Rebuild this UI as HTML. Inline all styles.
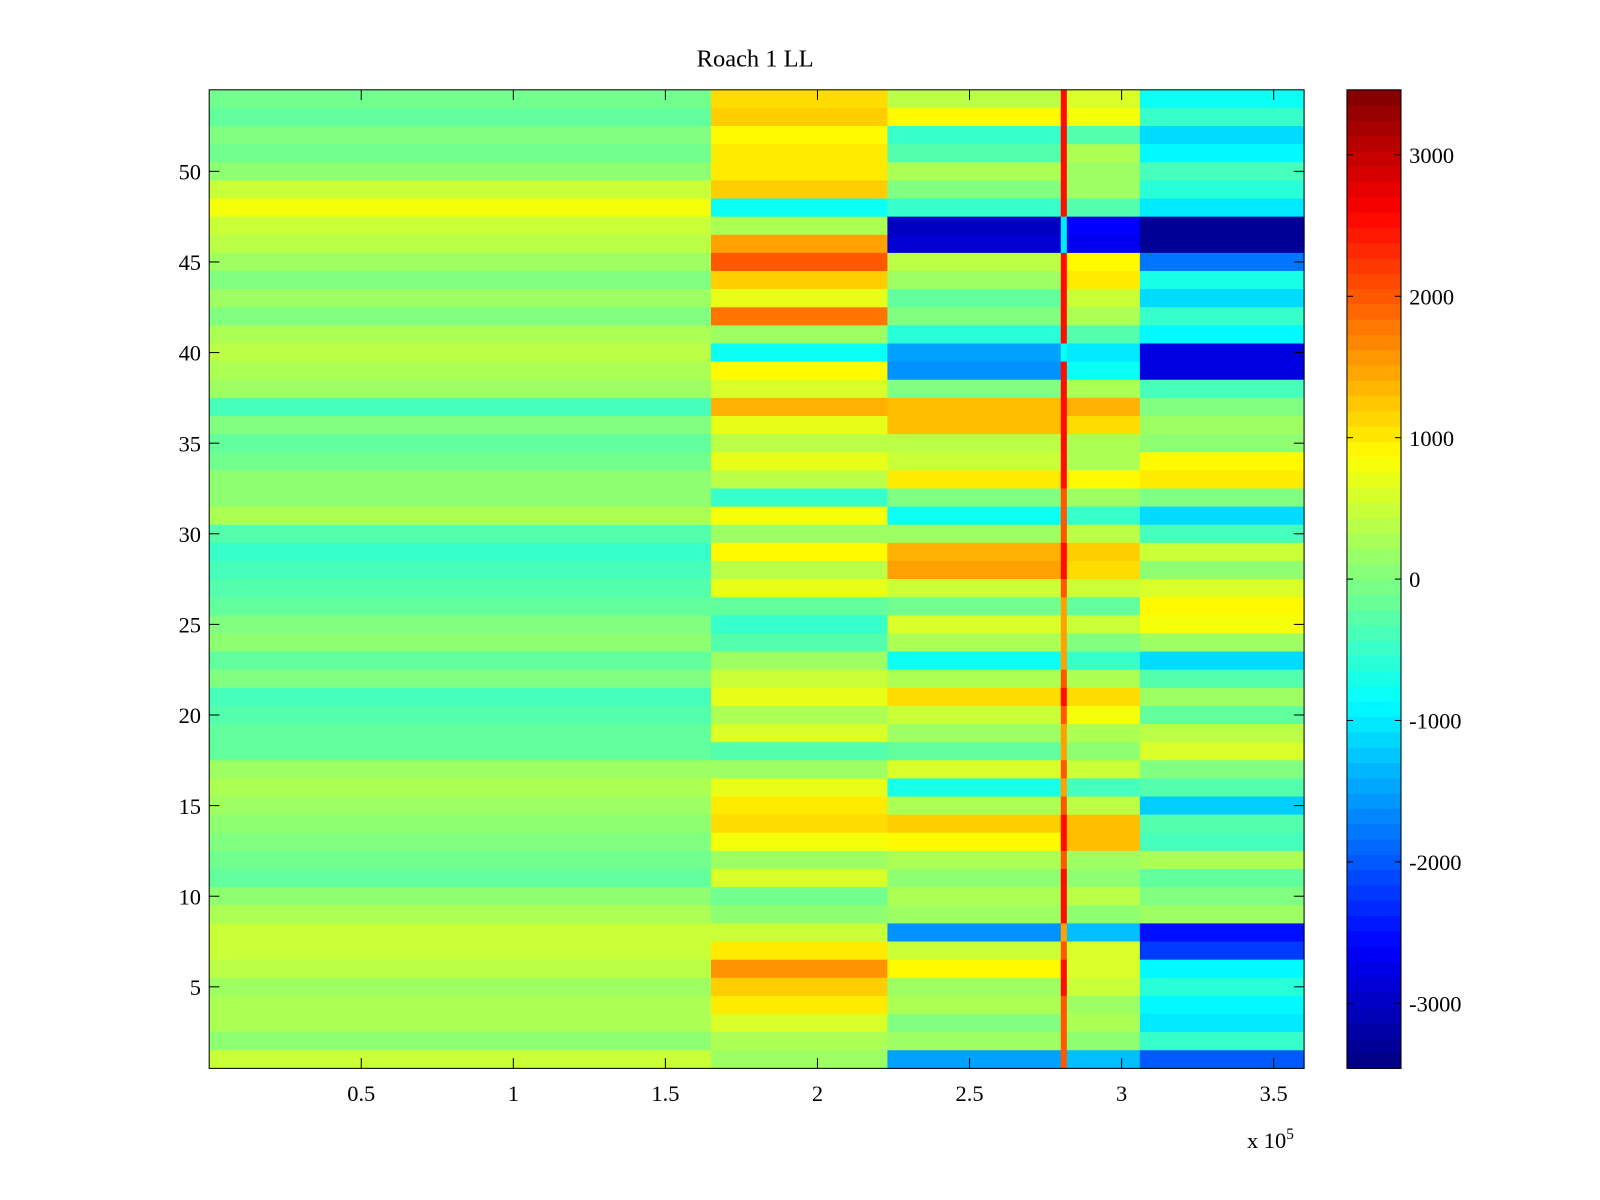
<!DOCTYPE html>
<html><head><meta charset="utf-8"><style>
html,body{margin:0;padding:0;background:#fff;}
svg{display:block;font-family:"Liberation Serif",serif;}
</style></head><body>
<svg id="fig" width="1600" height="1200" viewBox="0 0 1568 1176">
<rect width="1568" height="1176" fill="#fff"/>
<text x="740" y="65" font-size="24" text-anchor="middle">Roach 1 LL</text>
<g id="cells"></g>
<g id="cbar"></g>
<g id="axes"></g>
<text x="1222" y="1125" font-size="22">x 10<tspan dy="-9" font-size="15">5</tspan></text>
</svg>
<script>
const xEdges=[0,1.65e5,2.23e5,2.80e5,2.82e5,3.06e5,3.6e5];
// rows 54 down to 1; each: [seg1, seg2, seg3, spike, seg4, seg5]
const rowValues=[
[-100,1100,400,2500,600,-800],
[-200,1200,900,2500,800,-500],
[0,900,-500,2500,-300,-1100],
[-100,1000,-300,2500,300,-900],
[100,1000,300,2500,200,-400],
[500,1200,0,2500,200,-600],
[800,-800,-500,2500,-300,-1000],
[500,300,-3000,-1000,-2600,-3300],
[400,1500,-2900,-1000,-2700,-3300],
[200,2000,400,2500,900,-1800],
[0,1200,200,2500,1000,-700],
[200,700,-200,2500,500,-1100],
[0,1800,0,2500,300,-500],
[300,200,-600,2500,-300,-900],
[400,-800,-1500,-800,-1000,-2800],
[300,900,-1600,2500,-800,-2800],
[200,600,0,2500,300,-400],
[-400,1400,1300,2500,1400,0],
[0,700,1300,2500,1100,200],
[-200,400,400,2500,300,100],
[-100,700,500,2500,300,900],
[100,400,1000,2500,900,1000],
[100,-500,0,2000,200,0],
[300,800,-800,2000,-500,-1100],
[-300,200,200,2000,400,-400],
[-500,900,1400,2500,1200,500],
[-400,400,1500,2500,1100,100],
[-300,700,500,2000,500,600],
[-200,-200,-100,1500,-200,900],
[0,-500,600,1500,500,800],
[100,-300,300,1500,0,200],
[-200,200,-800,1500,-500,-1100],
[0,500,300,2000,300,-300],
[-400,700,1100,2500,1100,200],
[-300,300,500,2000,800,-200],
[-200,600,200,1500,300,400],
[-200,-300,-200,1500,100,600],
[200,200,600,2000,500,0],
[300,700,-700,1500,-400,-300],
[200,1000,300,2000,400,-1200],
[100,1100,1200,2500,1300,-300],
[0,800,900,2500,1300,-400],
[-100,200,300,2000,200,300],
[-200,600,100,2500,100,-200],
[100,-100,300,2500,400,0],
[300,100,200,2500,100,200],
[500,500,-1600,1500,-1300,-2500],
[500,1000,500,2000,600,-2200],
[400,1600,900,2500,600,-900],
[200,1200,200,2500,500,-600],
[300,1000,300,2000,200,-900],
[300,600,0,2000,300,-1000],
[100,300,200,2000,100,-500],
[500,200,-1500,2000,-1300,-2000]
];
const xTicks=[0.5,1,1.5,2,2.5,3,3.5];
const yTicks=[5,10,15,20,25,30,35,40,45,50];
const cTicks=[3000,2000,1000,0,-1000,-2000,-3000];
const cMin=-3460,cMax=3460;
const NS="http://www.w3.org/2000/svg";
const L=205,R=1278,T=88,B=1047,XMAX=3.6e5;
const xs=v=>L+(v/XMAX)*(R-L);
const ys=r=>T+(54.5-r)*(B-T)/54;
function jet(v){let t=(v-cMin)/(cMax-cMin);t=Math.max(0,Math.min(1,t));
 const f=x=>Math.round(255*Math.max(0,Math.min(1,1.5-Math.abs(4*t-x))));
 return `rgb(${f(3)},${f(2)},${f(1)})`;}
function mk(tag,attrs,parent){const e=document.createElementNS(NS,tag);for(const k in attrs)e.setAttribute(k,attrs[k]);parent.appendChild(e);return e;}
const cells=document.getElementById('cells');
rowValues.forEach((row,i)=>{const r=54-i;
 row.forEach((v,j)=>{const x0=xs(xEdges[j]),x1=xs(xEdges[j+1]);
  const e=mk('rect',{x:x0,y:ys(r+0.5),width:x1-x0+0.5,height:ys(r-0.5)-ys(r+0.5)+0.5,fill:jet(v)},cells);
  
  
 });});
const ax=document.getElementById('axes');
const fr=mk('rect',{x:L,y:T,width:R-L,height:B-T,fill:'none',stroke:'#000','stroke-width':1},ax);


xTicks.forEach(t=>{const x=xs(t*1e5);
 mk('line',{x1:x,y1:B,x2:x,y2:B-10,stroke:'#000'},ax);mk('line',{x1:x,y1:T,x2:x,y2:T+10,stroke:'#000'},ax);
 const tx=mk('text',{x:x,y:B+32,'font-size':22,'text-anchor':'middle'},ax);tx.textContent=String(t);
 
 });
yTicks.forEach(t=>{const y=ys(t);
 mk('line',{x1:L,y1:y,x2:L+10,y2:y,stroke:'#000'},ax);mk('line',{x1:R,y1:y,x2:R-10,y2:y,stroke:'#000'},ax);
 const tx=mk('text',{x:197,y:y+8,'font-size':22,'text-anchor':'end'},ax);tx.textContent=String(t);
 
 });
const cb=document.getElementById('cbar');
const CL=1320,CR=1373,N=64;
const cy=v=>B-(v-cMin)/(cMax-cMin)*(B-T);
for(let k=0;k<N;k++){const v0=cMin+(cMax-cMin)*k/N,v1=cMin+(cMax-cMin)*(k+1)/N;
 const e=mk('rect',{x:CL,y:cy(v1),width:CR-CL,height:cy(v0)-cy(v1)+0.5,fill:jet((v0+v1)/2)},cb);
 
 }
mk('rect',{x:CL,y:T,width:CR-CL,height:B-T,fill:'none',stroke:'#000'},cb);
cTicks.forEach(t=>{const y=cy(t);
 mk('line',{x1:CR,y1:y,x2:CR-6,y2:y,stroke:'#000'},cb);mk('line',{x1:CL,y1:y,x2:CL+6,y2:y,stroke:'#000'},cb);
 const tx=mk('text',{x:1381,y:y+8,'font-size':22},cb);tx.textContent=String(t);
 
 });
</script>
</body></html>
